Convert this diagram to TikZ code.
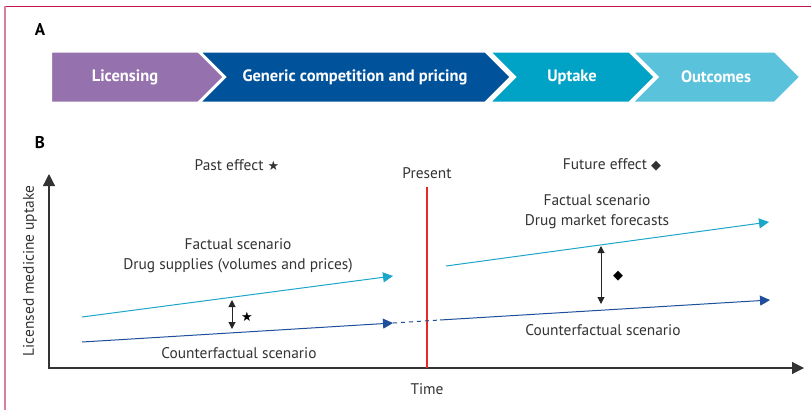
\documentclass[tikz,border=0pt]{standalone}
\usepackage{fontspec}
\setmainfont{PT Sans}
\newfontfamily\symfont{DejaVu Sans}
\usepackage{tikz}
\usetikzlibrary{arrows.meta,calc,positioning,shapes.symbols}
\definecolor{lancetred}{RGB}{192,22,74}
\definecolor{presentred}{RGB}{232,40,36}
\definecolor{licpurple}{RGB}{149,113,173}
\definecolor{genblue}{RGB}{0,82,155}
\definecolor{upcyan}{RGB}{0,163,198}
\definecolor{outcyan}{RGB}{91,194,220}
\definecolor{factline}{RGB}{28,166,201}
\definecolor{cfline}{RGB}{31,78,156}
\definecolor{axisgrey}{RGB}{51,51,51}
\tikzstyle{stage}=[
  signal,
  signal to=east,
  signal pointer angle=90,
  minimum height=52pt,
  inner sep=0pt,
  outer sep=0pt,
  draw=white,
  line width=3pt,
  text=white,
  font={\fontsize{16.5}{19}\selectfont\bfseries},
]
\tikzstyle{axis}=[
  draw=axisgrey,
  line width=1.2pt,
]
\tikzstyle{trend}=[
  line width=1pt,
  -{Triangle[length=10pt,width=10pt]},
]
\tikzstyle{gap}=[
  draw=black!85,
  line width=1pt,
  {Triangle[length=7pt,width=7pt]}-{Triangle[length=7pt,width=7pt]},
]
\tikzstyle{caption}=[
  text=black!80,
  font={\fontsize{15.4}{20}\selectfont},
  inner sep=1pt,
  align=center,
]
\tikzstyle{effectsym}=[
  font={\symfont\fontsize{13}{13}\selectfont},
  inner sep=0pt,
]
\tikzstyle{panel}=[
  font={\fontsize{17}{20}\selectfont\bfseries},
]
\tikzset{
  x=1pt, y=-1pt,
}

\begin{document}
\begin{tikzpicture}
      \useasboundingbox (0,0) rectangle (811,410);
      \draw [lancetred, line width=1pt] (4,6) -- (811,6);
      \draw [lancetred!55, line width=1.6pt] (5,6) -- (5,410);
      %%
      \node (A) [panel] at (40,30) {A};
      \node (lic) [stage, signal from=nowhere, fill=licpurple, minimum width=175pt, anchor=west] at (50.5,77) {Licensing};
      \node (gen) [stage, signal from=west, fill=genblue, minimum width=313pt] at (355,77) {Generic competition and pricing};
      \node (upt) [stage, signal from=west, fill=upcyan, minimum width=167pt] at (572,77) {Uptake};
      \node (out) [stage, signal from=west, fill=outcyan, minimum width=170pt] at (716,77) {Outcomes};
      %%
      \node (B) [panel] at (40,143) {B};
      \coordinate (O) at (49,368);
      \coordinate (ytop) at (49,174);
      \coordinate (xend) at (804,368);
      \draw [axis, {Triangle[length=12pt,width=12pt]}-{Triangle[length=12pt,width=12pt]}] (ytop) -- (O) -- (xend);
      \node (ylab) [caption, rotate=90] at (30,271) {Licensed medicine uptake};
      \node (time) [caption, below=14pt of O-|{(427,0)}] {Time};
      %%
      \node (present) [caption] at (427,173) {Present};
      \coordinate (P) at (427,187);
      \draw [presentred, line width=1.3pt] (P) -- (P|-O);
      %%
      \node (past) [caption] at (237,165) {Past effect {\symfont\fontsize{13}{13}\selectfont ★}};
      \node (future) [caption] at (612,165) {Future effect {\symfont\fontsize{13}{13}\selectfont ◆}};
      %%
      \coordinate (pf0) at (82,317);
      \coordinate (pf1) at (393,276);
      \coordinate (pc0) at (82,342);
      \coordinate (pc1) at (393,323);
      \coordinate (fc0) at (440,320);
      \coordinate (fc1) at (770,300);
      \coordinate (ff0) at (446,266);
      \coordinate (ff1) at (769,222);
      \draw [trend, factline] (pf0) -- (pf1);
      \draw [trend, cfline] (pc0) -- (pc1);
      \draw [cfline, line width=1pt, dash pattern=on 4pt off 4pt] (pc1) -- (fc0);
      \draw [trend, cfline] (fc0) -- (fc1);
      \draw [trend, factline] (ff0) -- (ff1);
      %%
      \node (pastfact) [caption] at (238,256) {Factual scenario\\Drug supplies (volumes and prices)};
      \node (pastcf) [caption] at (239,353) {Counterfactual scenario};
      \node (futfact) [caption] at (597,212) {Factual scenario\\Drug market forecasts};
      \node (futcf) [caption] at (603,330) {Counterfactual scenario};
      %%
      \coordinate (pg0) at (232,300);
      \coordinate (pg1) at (232,329);
      \coordinate (fg0) at (601,246);
      \coordinate (fg1) at (601,304);
      \draw [gap] (pg0) -- (pg1);
      \draw [gap] (fg0) -- (fg1);
      \node (pstar) [effectsym] at (247,317) {★};
      \node (fdiam) [effectsym] at (618,276) {◆};
    \end{tikzpicture}
\end{document}
